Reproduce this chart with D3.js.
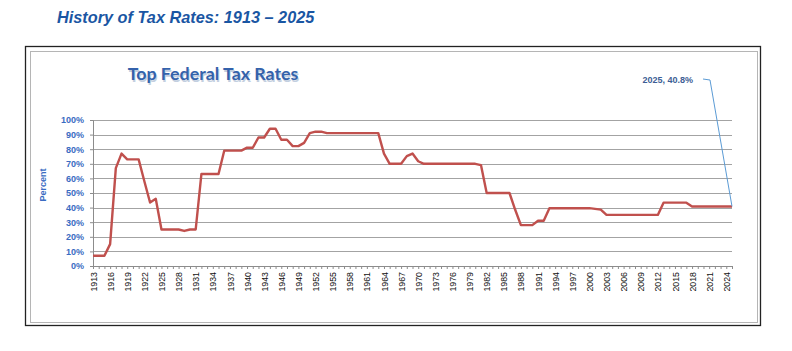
<!DOCTYPE html>
<html>
<head>
<meta charset="utf-8">
<script src="https://cdn.jsdelivr.net/npm/d3@7"></script>
<style>
  body { margin: 0; background: #fff; }
  svg { display: block; }
</style>
</head>
<body>
<div id="chart"></div>
<script>
// top marginal federal income tax rate, percent, 1913..2025
const years = d3.range(1913, 2026);
const rates = [
  7, 7, 7, 15, 67, 77, 73, 73, 73, 58,            // 1913-1922
  43.5, 46, 25, 25, 25, 25, 24, 25, 25, 63,       // 1923-1932
  63, 63, 63, 79, 79, 79, 79, 81.1, 81, 88,       // 1933-1942
  88, 94, 94, 86.45, 86.45, 82.13, 82.13, 84.36, 91, 92, // 1943-1952
  92, 91, 91, 91, 91, 91, 91, 91, 91, 91,         // 1953-1962
  91, 77, 70, 70, 70, 75.25, 77, 71.75, 70, 70,   // 1963-1972
  70, 70, 70, 70, 70, 70, 70, 70, 69.13, 50,      // 1973-1982
  50, 50, 50, 50, 38.5, 28, 28, 28, 31, 31,       // 1983-1992
  39.6, 39.6, 39.6, 39.6, 39.6, 39.6, 39.6, 39.6, 39.1, 38.6, // 1993-2002
  35, 35, 35, 35, 35, 35, 35, 35, 35, 35,         // 2003-2012
  43.4, 43.4, 43.4, 43.4, 43.4, 40.8, 40.8, 40.8, 40.8, 40.8, // 2013-2022
  40.8, 40.8, 40.8                                // 2023-2025
];
const yTicks = [0, 10, 20, 30, 40, 50, 60, 70, 80, 90, 100];
const labelYears = years.filter(y => (y - 1913) % 3 === 0);
const callout = { year: 2025, text: "2025, 40.8%" };

const data = years.map((y, i) => ({ year: y, rate: rates[i] }));

const W = 792, H = 351;
const svg = d3.select("#chart").append("svg")
  .attr("width", W).attr("height", H);

// page title
svg.append("text")
  .attr("x", 57).attr("y", 23)
  .attr("font-family", "Liberation Sans, Arial, sans-serif")
  .attr("font-size", 16.3)
  .attr("font-weight", "bold")
  .attr("font-style", "italic")
  .attr("fill", "#1a56a3")
  .text("History of Tax Rates: 1913 \u2013 2025");

// frames
svg.append("rect")
  .attr("x", 25.5).attr("y", 46.5).attr("width", 735).attr("height", 279)
  .attr("fill", "none").attr("stroke", "#222").attr("stroke-width", 1.3);
svg.append("rect")
  .attr("x", 30.5).attr("y", 51.5).attr("width", 727).attr("height", 271)
  .attr("fill", "none").attr("stroke", "#b5b5b5").attr("stroke-width", 1);

// chart title with soft shadow
const ct = svg.append("g")
  .attr("font-family", "Lato, 'Open Sans', sans-serif")
  .attr("font-size", 17.8)
  .attr("font-weight", "bold")
  .attr("text-anchor", "middle");
ct.append("text").attr("x", 214).attr("y", 81.5).attr("fill", "#c3cfe0").text("Top Federal Tax Rates");
ct.append("text").attr("x", 213).attr("y", 80).attr("fill", "#3462ab").text("Top Federal Tax Rates");

const x = d3.scaleLinear().domain([1913, 2025]).range([93, 732]);
const y = d3.scaleLinear().domain([0, 100]).range([266, 120]);

// gridlines
svg.append("g")
  .selectAll("line")
  .data(yTicks.filter(t => t > 0))
  .join("line")
  .attr("x1", x(1913)).attr("x2", x(2025))
  .attr("y1", d => Math.round(y(d)) + 0.5).attr("y2", d => Math.round(y(d)) + 0.5)
  .attr("stroke", "#a3a3a3").attr("stroke-width", 1.2);

// y axis
const yAxis = svg.append("g")
  .attr("transform", `translate(${x(1913)},0)`)
  .call(d3.axisLeft(y).tickValues(yTicks).tickSize(3).tickPadding(6).tickFormat(d => d + "%"));
yAxis.select(".domain").attr("stroke", "#8c8c8c");
yAxis.selectAll(".tick line").attr("stroke", "#8c8c8c");
yAxis.selectAll("text")
  .attr("font-family", "Liberation Sans, Arial, sans-serif")
  .attr("font-size", 9)
  .attr("font-weight", "bold")
  .attr("fill", "#3a6cc2");

svg.append("text")
  .attr("transform", "translate(46,185) rotate(-90)")
  .attr("text-anchor", "middle")
  .attr("font-family", "Liberation Sans, Arial, sans-serif")
  .attr("font-size", 9)
  .attr("font-weight", "bold")
  .attr("fill", "#3a6cc2")
  .text("Percent");

// x axis
const xAxis = svg.append("g")
  .attr("transform", `translate(0,${y(0)})`)
  .call(d3.axisBottom(x).tickValues(years).tickSize(3)
    .tickFormat(d => labelYears.includes(d) ? String(d) : ""));
xAxis.select(".domain").attr("stroke", "#8c8c8c");
xAxis.selectAll(".tick line").attr("stroke", "#8c8c8c");
xAxis.selectAll("text")
  .attr("transform", "rotate(-90)")
  .attr("text-anchor", "end")
  .attr("x", -6).attr("y", 0).attr("dy", "0.35em")
  .attr("font-family", "Liberation Sans, Arial, sans-serif")
  .attr("font-size", 8.8)
  .attr("fill", "#111");

// rate line
svg.append("path")
  .datum(data)
  .attr("fill", "none")
  .attr("stroke", "#c0504d")
  .attr("stroke-width", 2.4)
  .attr("stroke-linejoin", "round")
  .attr("d", d3.line().x(d => x(d.year)).y(d => y(d.rate)));

// callout for the last value
const last = data.find(d => d.year === callout.year);
svg.append("polyline")
  .attr("points", `703,79 710,80 ${x(last.year)},${y(last.rate)}`)
  .attr("fill", "none").attr("stroke", "#5b9bd5").attr("stroke-width", 1);
svg.append("text")
  .attr("x", 693).attr("y", 83)
  .attr("text-anchor", "end")
  .attr("font-family", "Liberation Sans, Arial, sans-serif")
  .attr("font-size", 9)
  .attr("font-weight", "bold")
  .attr("fill", "#3d5e95")
  .text(callout.text);
</script>
</body>
</html>
